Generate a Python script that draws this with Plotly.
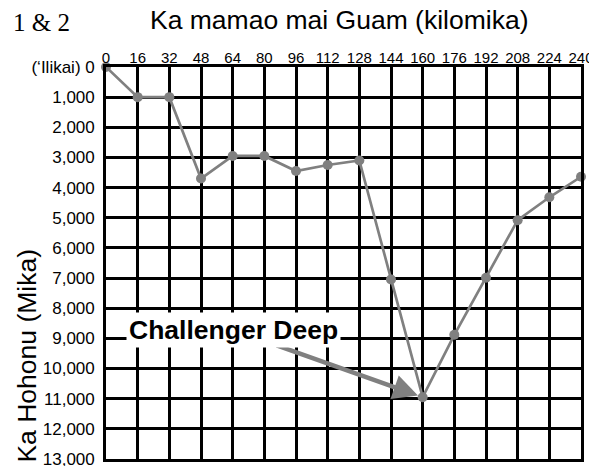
import plotly.graph_objects as go

distance_km = [0, 16, 32, 48, 64, 80, 96, 112, 128, 144, 160, 176, 192, 208, 224, 240]
depth_m = [0, 1000, 1000, 3700, 2950, 2950, 3450, 3250, 3100, 7050, 10950, 8880, 6990, 5080, 4320, 3640]

x_tickvals = list(range(0, 241, 16))
x_ticktext = [str(v) for v in x_tickvals]
y_tickvals = list(range(0, 13001, 1000))
y_ticktext = ["(‘Ilikai) 0"] + [f"{v:,}" for v in y_tickvals[1:]]

FONT = "Liberation Sans, Arial, Helvetica, sans-serif"
GRID = "#000000"
GRAY = "#808080"

# page body has an 8px default margin, so the figure is sized to fill the rest
fig = go.Figure()
fig.add_trace(go.Scatter(
    x=distance_km, y=depth_m, mode="lines+markers",
    line=dict(color=GRAY, width=2.7),
    marker=dict(color=GRAY, size=10),
    cliponaxis=False, hoverinfo="skip", showlegend=False,
))

fig.update_layout(
    width=589, height=458,
    margin=dict(l=97.5, r=15.5, t=58.7, b=7),
    paper_bgcolor="white", plot_bgcolor="white",
    font=dict(family=FONT, color="black"),
    xaxis=dict(
        range=[0, 240], side="top", tickvals=x_tickvals, ticktext=x_ticktext,
        showgrid=True, gridcolor=GRID, gridwidth=2.7,
        showline=True, mirror=True, linecolor=GRID, linewidth=2.7,
        zeroline=False, ticks="", tickfont=dict(size=15, family=FONT),
        ticklabelstandoff=-5, ticklabeloverflow="allow", automargin=False,
        fixedrange=True,
    ),
    yaxis=dict(
        range=[13000, 0], tickvals=y_tickvals, ticktext=y_ticktext,
        showgrid=True, gridcolor=GRID, gridwidth=2.7,
        showline=True, mirror=True, linecolor=GRID, linewidth=2.7,
        zeroline=False, ticks="", tickfont=dict(size=17, family=FONT),
        ticklabelstandoff=5, ticklabeloverflow="allow", automargin=False,
        fixedrange=True,
    ),
    annotations=[
        dict(text="1 & 2", xref="paper", yref="paper", x=0, y=1,
             xshift=41 - 105.5, yshift=66.7 - 22, xanchor="center", yanchor="middle",
             showarrow=False, font=dict(family="Liberation Serif, Times New Roman, serif", size=25)),
        dict(text="Ka mamao mai Guam (kilomika)", xref="paper", yref="paper",
             x=(339 - 105.5) / 476, y=1, yshift=66.7 - 20, xanchor="center", yanchor="middle",
             showarrow=False, font=dict(family=FONT, size=26.5)),
        dict(text="Ka Hohonu (Mika)", xref="paper", yref="paper", x=0, y=(459 - 356) / 392.3,
             xshift=27 - 105.5, xanchor="center", yanchor="middle", textangle=-90,
             showarrow=False, font=dict(family=FONT, size=26.5)),
        dict(text="", x=160, y=10950, xref="x", yref="y",
             ax=85.5, ay=9215, axref="x", ayref="y",
             showarrow=True, arrowhead=2, arrowsize=1.1, arrowwidth=4.5,
             arrowcolor=GRAY, standoff=5),
        dict(text="<b>Challenger Deep</b>", x=64.3, y=8735, xref="x", yref="y",
             xanchor="center", yanchor="middle", showarrow=False,
             bgcolor="white", borderpad=2, font=dict(family=FONT, size=26.5)),
    ],
)

fig.write_html("out.html")
